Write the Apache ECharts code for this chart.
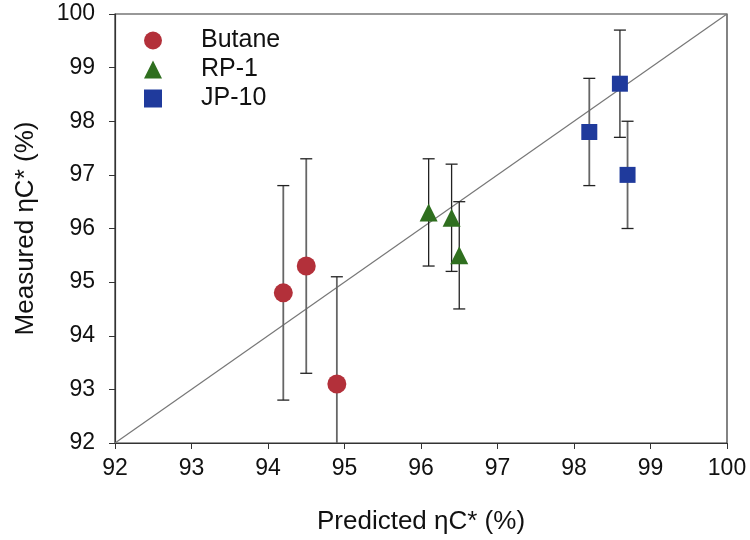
<!DOCTYPE html>
<html><head><meta charset="utf-8">
<script src="https://cdn.jsdelivr.net/npm/echarts@6/dist/echarts.min.js"></script>
<style>html,body{margin:0;padding:0;background:#fff}#c{width:750px;height:540px}</style>
</head><body><div id="c"></div>
<script>
const seriesNames = ['Butane', 'RP-1', 'JP-10'];
const butanePred = [94.2, 94.5, 94.9];
const butaneMeas = [94.8, 95.3, 93.1];
const butaneErr = [2.0, 2.0, 2.0];
const rp1Pred = [96.1, 96.4, 96.5];
const rp1Meas = [96.3, 96.2, 95.5];
const rp1Err = [1.0, 1.0, 1.0];
const jp10Pred = [98.2, 98.6, 98.7];
const jp10Meas = [97.8, 98.7, 97.0];
const jp10Err = [1.0, 1.0, 1.0];
const parityLine = [[92, 92], [100, 100]];
const axisMin = 92, axisMax = 100;

const colors = ['#b3303a', '#2f6f1f', '#1f3a9c'];
const barColors = ['#666', '#222', '#666'];
const symbols = ['circle', 'triangle', 'rect'];
const sizes = [19, 18, 16];
const groups = [
  [butanePred, butaneMeas, butaneErr],
  [rp1Pred, rp1Meas, rp1Err],
  [jp10Pred, jp10Meas, jp10Err]
];
const font = 'Liberation Sans, Arial, sans-serif';

const series = [{
  type: 'line', data: parityLine, symbol: 'none', silent: true,
  lineStyle: { color: '#777', width: 1.2 }, z: 1
}];
groups.forEach((g, i) => {
  const errData = g[0].map((x, k) => [x, g[1][k] - g[2][k], g[1][k] + g[2][k]]);
  series.push({
    type: 'custom', clip: true, z: 2, silent: true,
    data: errData,
    renderItem: function (params, api) {
      const x = api.value(0);
      const lo = api.coord([x, api.value(1)]);
      const hi = api.coord([x, api.value(2)]);
      const w = 6;
      const st = { stroke: barColors[i], lineWidth: i === 1 ? 1.3 : 1.8 };
      const cs = { stroke: '#222', lineWidth: 1.3 };
      const cb = params.coordSys;
      const children = [
        { type: 'line', shape: { x1: lo[0], y1: lo[1], x2: hi[0], y2: hi[1] }, style: st },
        { type: 'line', shape: { x1: hi[0] - w, y1: hi[1], x2: hi[0] + w, y2: hi[1] }, style: cs }
      ];
      if (lo[1] <= cb.y + cb.height) {
        children.push({ type: 'line', shape: { x1: lo[0] - w, y1: lo[1], x2: lo[0] + w, y2: lo[1] }, style: cs });
      }
      return { type: 'group', children: children };
    }
  });
  series.push({
    name: seriesNames[i], type: 'scatter', z: 3,
    data: g[0].map((x, k) => [x, g[1][k]]),
    symbol: symbols[i], symbolSize: sizes[i],
    itemStyle: { color: colors[i], opacity: 1 }
  });
});

const chart = echarts.init(document.getElementById('c'), null, { renderer: 'canvas' });
chart.setOption({
  animation: false,
  backgroundColor: '#fff',
  grid: { left: 115, right: 23, top: 14, bottom: 97, show: true, borderColor: '#333', borderWidth: 1.2 },
  legend: {
    orient: 'vertical', left: 139, top: 23, itemGap: 4,
    itemWidth: 18, itemHeight: 18,
    textStyle: { fontFamily: font, fontSize: 25, lineHeight: 20, color: '#111', padding: [0, 0, 0, 34] },
    data: seriesNames.map((n, i) => ({ name: n, icon: symbols[i] }))
  },
  xAxis: {
    type: 'value', min: axisMin, max: axisMax, interval: 1,
    name: 'Predicted ηC* (%)', nameLocation: 'middle', nameGap: 66,
    nameTextStyle: { fontFamily: font, fontSize: 26, color: '#111' },
    axisLine: { lineStyle: { color: '#333', width: 1.2 } },
    axisTick: { show: true, length: 6, lineStyle: { color: '#333' } },
    axisLabel: { fontFamily: font, fontSize: 23, color: '#111', margin: 14 },
    splitLine: { show: false }
  },
  yAxis: {
    type: 'value', min: axisMin, max: axisMax, interval: 1,
    name: 'Measured ηC* (%)', nameLocation: 'middle', nameGap: 76, nameRotate: 90,
    nameTextStyle: { fontFamily: font, fontSize: 26, color: '#111' },
    axisLine: { show: true, lineStyle: { color: '#333', width: 1.2 } },
    axisTick: { show: true, length: 6, lineStyle: { color: '#333' } },
    axisLabel: { fontFamily: font, fontSize: 23, color: '#111', margin: 20 },
    splitLine: { show: false }
  },
  series: series
});
</script></body></html>
